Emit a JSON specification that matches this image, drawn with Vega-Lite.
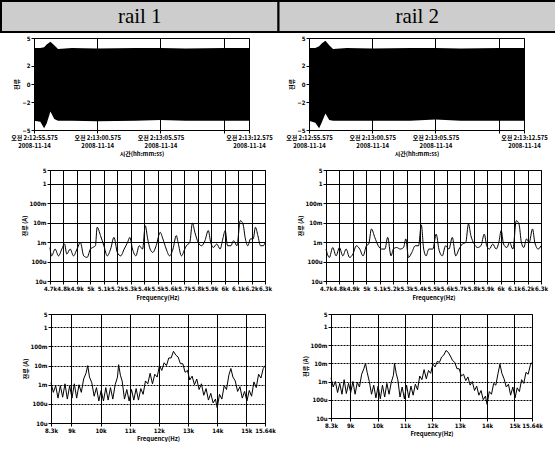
{
  "$schema": "https://vega.github.io/schema/vega-lite/v6.json",
  "padding": 0,
  "background": "white",
  "config": {
    "font": "Noto Sans CJK KR",
    "view": {"stroke": "black", "strokeWidth": 1},
    "axis": {
      "labelFont": "DejaVu Sans Condensed", "labelFontSize": 6, "labelFontWeight": "bold", "labelColor": "black",
      "titleFont": "Noto Sans CJK KR", "titleFontSize": 6, "titleFontWeight": "bold", "titleColor": "black",
      "domainColor": "black", "tickColor": "black", "gridColor": "black", "gridOpacity": 1,
      "tickSize": 3, "labelPadding": 1, "titlePadding": 2, "labelLineHeight": 8, "labelFlush": false, "labelOverlap": false
    }
  },
  "datasets": {
    "header": [{"rail": "rail 1"}, {"rail": "rail 2"}],
    "time": [
      {"rail": "rail 1", "t": "2008-11-14T02:12:55.575", "hi": 3.9, "lo": -4.0},
      {"rail": "rail 1", "t": "2008-11-14T02:12:56.075", "hi": 3.9, "lo": -4.1},
      {"rail": "rail 1", "t": "2008-11-14T02:12:56.375", "hi": 4.0, "lo": -4.8},
      {"rail": "rail 1", "t": "2008-11-14T02:12:56.575", "hi": 4.3, "lo": -4.3},
      {"rail": "rail 1", "t": "2008-11-14T02:12:56.875", "hi": 4.6, "lo": -3.0},
      {"rail": "rail 1", "t": "2008-11-14T02:12:57.175", "hi": 4.2, "lo": -3.8},
      {"rail": "rail 1", "t": "2008-11-14T02:12:57.475", "hi": 3.8, "lo": -4.0},
      {"rail": "rail 1", "t": "2008-11-14T02:12:58.575", "hi": 3.9, "lo": -4.0},
      {"rail": "rail 1", "t": "2008-11-14T02:13:00.575", "hi": 3.85, "lo": -4.05},
      {"rail": "rail 1", "t": "2008-11-14T02:13:03.575", "hi": 3.9, "lo": -4.0},
      {"rail": "rail 1", "t": "2008-11-14T02:13:05.575", "hi": 3.9, "lo": -3.9},
      {"rail": "rail 1", "t": "2008-11-14T02:13:07.575", "hi": 3.85, "lo": -4.0},
      {"rail": "rail 1", "t": "2008-11-14T02:13:10.575", "hi": 3.9, "lo": -4.0},
      {"rail": "rail 1", "t": "2008-11-14T02:13:12.575", "hi": 3.9, "lo": -4.0},
      {"rail": "rail 2", "t": "2008-11-14T02:12:55.575", "hi": 3.9, "lo": -4.0},
      {"rail": "rail 2", "t": "2008-11-14T02:12:56.075", "hi": 3.9, "lo": -4.2},
      {"rail": "rail 2", "t": "2008-11-14T02:12:56.375", "hi": 4.1, "lo": -4.8},
      {"rail": "rail 2", "t": "2008-11-14T02:12:56.575", "hi": 4.4, "lo": -4.2},
      {"rail": "rail 2", "t": "2008-11-14T02:12:56.875", "hi": 4.7, "lo": -3.2},
      {"rail": "rail 2", "t": "2008-11-14T02:12:57.175", "hi": 4.2, "lo": -3.9},
      {"rail": "rail 2", "t": "2008-11-14T02:12:57.475", "hi": 3.8, "lo": -4.0},
      {"rail": "rail 2", "t": "2008-11-14T02:12:58.575", "hi": 3.9, "lo": -4.0},
      {"rail": "rail 2", "t": "2008-11-14T02:13:00.575", "hi": 3.85, "lo": -4.0},
      {"rail": "rail 2", "t": "2008-11-14T02:13:03.575", "hi": 3.9, "lo": -4.0},
      {"rail": "rail 2", "t": "2008-11-14T02:13:05.575", "hi": 3.9, "lo": -3.85},
      {"rail": "rail 2", "t": "2008-11-14T02:13:07.575", "hi": 3.85, "lo": -4.0},
      {"rail": "rail 2", "t": "2008-11-14T02:13:10.575", "hi": 3.9, "lo": -4.0},
      {"rail": "rail 2", "t": "2008-11-14T02:13:12.575", "hi": 3.9, "lo": -4.0}
    ],
    "spec2": [
      {"rail":"rail 1","f":4700,"v":5.25e-4},{"rail":"rail 1","f":4712,"v":1.95e-4},{"rail":"rail 1","f":4738,"v":4.37e-4},{"rail":"rail 1","f":4763,"v":1.95e-4},
      {"rail":"rail 1","f":4788,"v":4.37e-4},{"rail":"rail 1","f":4808,"v":7.94e-4},{"rail":"rail 1","f":4825,"v":2.4e-4},{"rail":"rail 1","f":4850,"v":4.37e-4},
      {"rail":"rail 1","f":4875,"v":1.95e-4},{"rail":"rail 1","f":4901,"v":4.37e-4},{"rail":"rail 1","f":4926,"v":9.5e-4},{"rail":"rail 1","f":4951,"v":1.95e-4},
      {"rail":"rail 1","f":4976,"v":1.62e-4},{"rail":"rail 1","f":5001,"v":4.37e-4},{"rail":"rail 1","f":5018,"v":5.25e-4},{"rail":"rail 1","f":5038,"v":6.46e-4},
      {"rail":"rail 1","f":5051,"v":5.75e-3},{"rail":"rail 1","f":5076,"v":2.14e-3},{"rail":"rail 1","f":5101,"v":6.46e-4},{"rail":"rail 1","f":5126,"v":1.95e-4},
      {"rail":"rail 1","f":5151,"v":4.37e-4},{"rail":"rail 1","f":5176,"v":1.74e-3},{"rail":"rail 1","f":5201,"v":2.95e-4},{"rail":"rail 1","f":5226,"v":1.95e-4},
      {"rail":"rail 1","f":5252,"v":4.37e-4},{"rail":"rail 1","f":5277,"v":9.5e-4},{"rail":"rail 1","f":5294,"v":1.74e-3},{"rail":"rail 1","f":5314,"v":4.37e-4},
      {"rail":"rail 1","f":5339,"v":1.95e-4},{"rail":"rail 1","f":5364,"v":6.46e-4},{"rail":"rail 1","f":5389,"v":4.37e-4},{"rail":"rail 1","f":5409,"v":6.9e-3},
      {"rail":"rail 1","f":5427,"v":1.45e-3},{"rail":"rail 1","f":5445,"v":4.37e-4},{"rail":"rail 1","f":5465,"v":2.95e-4},{"rail":"rail 1","f":5490,"v":6.46e-4},
      {"rail":"rail 1","f":5520,"v":3.16e-3},{"rail":"rail 1","f":5540,"v":1.45e-3},{"rail":"rail 1","f":5565,"v":4.37e-4},{"rail":"rail 1","f":5590,"v":1.95e-4},
      {"rail":"rail 1","f":5615,"v":4.37e-4},{"rail":"rail 1","f":5640,"v":2.14e-3},{"rail":"rail 1","f":5653,"v":9.5e-4},{"rail":"rail 1","f":5678,"v":1.95e-4},
      {"rail":"rail 1","f":5703,"v":4.37e-4},{"rail":"rail 1","f":5715,"v":6.46e-4},{"rail":"rail 1","f":5740,"v":9.5e-4},{"rail":"rail 1","f":5760,"v":9.5e-3},
      {"rail":"rail 1","f":5778,"v":3.16e-3},{"rail":"rail 1","f":5803,"v":9.5e-4},{"rail":"rail 1","f":5828,"v":6.46e-4},{"rail":"rail 1","f":5853,"v":1.17e-3},
      {"rail":"rail 1","f":5878,"v":3.9e-3},{"rail":"rail 1","f":5896,"v":9.5e-4},{"rail":"rail 1","f":5916,"v":5.25e-4},{"rail":"rail 1","f":5941,"v":7.94e-4},
      {"rail":"rail 1","f":5966,"v":4.37e-4},{"rail":"rail 1","f":5986,"v":1.45e-3},{"rail":"rail 1","f":6004,"v":3.9e-3},{"rail":"rail 1","f":6021,"v":6.46e-4},
      {"rail":"rail 1","f":6046,"v":6.46e-4},{"rail":"rail 1","f":6066,"v":1.17e-3},{"rail":"rail 1","f":6091,"v":6.46e-4},{"rail":"rail 1","f":6116,"v":1.26e-2},
      {"rail":"rail 1","f":6136,"v":8.5e-3},{"rail":"rail 1","f":6154,"v":1.45e-3},{"rail":"rail 1","f":6172,"v":6.46e-4},{"rail":"rail 1","f":6192,"v":1.45e-3},
      {"rail":"rail 1","f":6212,"v":1.45e-3},{"rail":"rail 1","f":6229,"v":5.75e-3},{"rail":"rail 1","f":6247,"v":2.14e-3},{"rail":"rail 1","f":6267,"v":6.46e-4},
      {"rail":"rail 1","f":6287,"v":6.46e-4},{"rail":"rail 1","f":6300,"v":9.5e-4},
      {"rail":"rail 2","f":4700,"v":4.37e-4},{"rail":"rail 2","f":4725,"v":1.62e-4},{"rail":"rail 2","f":4750,"v":5.25e-4},{"rail":"rail 2","f":4775,"v":1.95e-4},
      {"rail":"rail 2","f":4800,"v":5.25e-4},{"rail":"rail 2","f":4825,"v":1.95e-4},{"rail":"rail 2","f":4850,"v":4.37e-4},{"rail":"rail 2","f":4875,"v":1.62e-4},
      {"rail":"rail 2","f":4900,"v":2.4e-4},{"rail":"rail 2","f":4926,"v":6.46e-4},{"rail":"rail 2","f":4951,"v":4.37e-4},{"rail":"rail 2","f":4976,"v":1.95e-4},
      {"rail":"rail 2","f":5001,"v":6.46e-4},{"rail":"rail 2","f":5018,"v":7.94e-4},{"rail":"rail 2","f":5038,"v":4.7e-3},{"rail":"rail 2","f":5063,"v":1.74e-3},
      {"rail":"rail 2","f":5089,"v":6.46e-4},{"rail":"rail 2","f":5114,"v":4.37e-4},{"rail":"rail 2","f":5139,"v":4.37e-4},{"rail":"rail 2","f":5159,"v":1.74e-3},
      {"rail":"rail 2","f":5184,"v":1.95e-4},{"rail":"rail 2","f":5201,"v":4.37e-4},{"rail":"rail 2","f":5226,"v":5.25e-4},{"rail":"rail 2","f":5252,"v":4.37e-4},
      {"rail":"rail 2","f":5277,"v":5.25e-4},{"rail":"rail 2","f":5294,"v":1.45e-3},{"rail":"rail 2","f":5314,"v":1.62e-4},{"rail":"rail 2","f":5339,"v":2.95e-4},
      {"rail":"rail 2","f":5364,"v":6.46e-4},{"rail":"rail 2","f":5389,"v":6.46e-4},{"rail":"rail 2","f":5409,"v":7.6e-3},{"rail":"rail 2","f":5427,"v":4.37e-4},
      {"rail":"rail 2","f":5445,"v":1.95e-4},{"rail":"rail 2","f":5465,"v":4.37e-4},{"rail":"rail 2","f":5495,"v":4.37e-4},{"rail":"rail 2","f":5520,"v":2.57e-3},
      {"rail":"rail 2","f":5540,"v":4.37e-4},{"rail":"rail 2","f":5565,"v":1.95e-4},{"rail":"rail 2","f":5590,"v":6.46e-4},{"rail":"rail 2","f":5615,"v":4.37e-4},
      {"rail":"rail 2","f":5640,"v":1.74e-3},{"rail":"rail 2","f":5665,"v":1.95e-4},{"rail":"rail 2","f":5690,"v":4.37e-4},{"rail":"rail 2","f":5715,"v":7.94e-4},
      {"rail":"rail 2","f":5740,"v":9.5e-4},{"rail":"rail 2","f":5760,"v":8.5e-3},{"rail":"rail 2","f":5778,"v":2.14e-3},{"rail":"rail 2","f":5803,"v":7.94e-4},
      {"rail":"rail 2","f":5828,"v":5.25e-4},{"rail":"rail 2","f":5853,"v":6.46e-4},{"rail":"rail 2","f":5878,"v":2.57e-3},{"rail":"rail 2","f":5896,"v":6.46e-4},
      {"rail":"rail 2","f":5916,"v":4.37e-4},{"rail":"rail 2","f":5941,"v":7.94e-4},{"rail":"rail 2","f":5966,"v":4.37e-4},{"rail":"rail 2","f":5986,"v":9.5e-4},
      {"rail":"rail 2","f":6004,"v":3.9e-3},{"rail":"rail 2","f":6021,"v":7.94e-4},{"rail":"rail 2","f":6046,"v":5.25e-4},{"rail":"rail 2","f":6066,"v":9.5e-4},
      {"rail":"rail 2","f":6091,"v":4.37e-4},{"rail":"rail 2","f":6116,"v":1.26e-2},{"rail":"rail 2","f":6136,"v":8.5e-3},{"rail":"rail 2","f":6154,"v":9.5e-4},
      {"rail":"rail 2","f":6172,"v":5.25e-4},{"rail":"rail 2","f":6192,"v":1.45e-3},{"rail":"rail 2","f":6212,"v":9.5e-4},{"rail":"rail 2","f":6237,"v":4.7e-3},
      {"rail":"rail 2","f":6254,"v":9.5e-4},{"rail":"rail 2","f":6279,"v":4.37e-4},{"rail":"rail 2","f":6300,"v":6.46e-4}
    ],
    "spec3": [
      {"rail":"rail 1","f":8300,"v":1.26e-3},{"rail":"rail 1","f":8380,"v":4.0e-4},{"rail":"rail 1","f":8460,"v":8.9e-4},{"rail":"rail 1","f":8540,"v":2.0e-4},
      {"rail":"rail 1","f":8620,"v":8.9e-4},{"rail":"rail 1","f":8700,"v":2.24e-4},{"rail":"rail 1","f":8780,"v":1.12e-3},{"rail":"rail 1","f":8860,"v":1.78e-4},
      {"rail":"rail 1","f":8940,"v":8.9e-4},{"rail":"rail 1","f":9020,"v":2.0e-4},{"rail":"rail 1","f":9100,"v":1.12e-3},{"rail":"rail 1","f":9180,"v":2.0e-4},
      {"rail":"rail 1","f":9260,"v":1.0e-3},{"rail":"rail 1","f":9340,"v":4.0e-4},{"rail":"rail 1","f":9420,"v":2.0e-3},{"rail":"rail 1","f":9500,"v":3.98e-3},
      {"rail":"rail 1","f":9560,"v":1.0e-2},{"rail":"rail 1","f":9620,"v":2.51e-3},{"rail":"rail 1","f":9700,"v":1.26e-3},{"rail":"rail 1","f":9780,"v":2.51e-4},
      {"rail":"rail 1","f":9860,"v":7.08e-4},{"rail":"rail 1","f":9940,"v":1.41e-4},{"rail":"rail 1","f":10020,"v":5.01e-4},{"rail":"rail 1","f":10100,"v":1.41e-4},
      {"rail":"rail 1","f":10180,"v":7.08e-4},{"rail":"rail 1","f":10260,"v":1.58e-4},{"rail":"rail 1","f":10340,"v":7.08e-4},{"rail":"rail 1","f":10420,"v":1.78e-4},
      {"rail":"rail 1","f":10500,"v":1.0e-3},{"rail":"rail 1","f":10580,"v":2.51e-3},{"rail":"rail 1","f":10620,"v":1.12e-2},{"rail":"rail 1","f":10680,"v":3.16e-3},
      {"rail":"rail 1","f":10740,"v":1.58e-3},{"rail":"rail 1","f":10820,"v":1.78e-4},{"rail":"rail 1","f":10900,"v":5.62e-4},{"rail":"rail 1","f":10980,"v":1.41e-4},
      {"rail":"rail 1","f":11060,"v":5.62e-4},{"rail":"rail 1","f":11140,"v":1.58e-4},{"rail":"rail 1","f":11220,"v":6.31e-4},{"rail":"rail 1","f":11300,"v":1.58e-4},
      {"rail":"rail 1","f":11380,"v":6.31e-4},{"rail":"rail 1","f":11460,"v":3.16e-4},{"rail":"rail 1","f":11540,"v":1.58e-3},{"rail":"rail 1","f":11620,"v":1.12e-3},
      {"rail":"rail 1","f":11700,"v":3.98e-3},{"rail":"rail 1","f":11780,"v":1.12e-3},{"rail":"rail 1","f":11860,"v":3.55e-3},{"rail":"rail 1","f":11940,"v":2.51e-3},
      {"rail":"rail 1","f":12020,"v":1.0e-2},{"rail":"rail 1","f":12100,"v":5.62e-3},{"rail":"rail 1","f":12180,"v":1.41e-2},{"rail":"rail 1","f":12260,"v":1.0e-2},
      {"rail":"rail 1","f":12340,"v":2.51e-2},{"rail":"rail 1","f":12420,"v":2.51e-2},{"rail":"rail 1","f":12500,"v":5.62e-2},{"rail":"rail 1","f":12580,"v":3.55e-2},
      {"rail":"rail 1","f":12660,"v":2.82e-2},{"rail":"rail 1","f":12740,"v":1.26e-2},{"rail":"rail 1","f":12820,"v":1.26e-2},{"rail":"rail 1","f":12900,"v":4.47e-3},
      {"rail":"rail 1","f":12980,"v":5.62e-3},{"rail":"rail 1","f":13060,"v":1.78e-3},{"rail":"rail 1","f":13140,"v":2.82e-3},{"rail":"rail 1","f":13220,"v":1.0e-3},
      {"rail":"rail 1","f":13300,"v":2.0e-3},{"rail":"rail 1","f":13380,"v":5.62e-4},{"rail":"rail 1","f":13460,"v":1.12e-3},{"rail":"rail 1","f":13540,"v":2.82e-4},
      {"rail":"rail 1","f":13620,"v":6.31e-4},{"rail":"rail 1","f":13700,"v":1.58e-4},{"rail":"rail 1","f":13780,"v":3.55e-4},{"rail":"rail 1","f":13860,"v":1.12e-4},
      {"rail":"rail 1","f":13940,"v":1.78e-4},{"rail":"rail 1","f":14000,"v":6.31e-5},{"rail":"rail 1","f":14080,"v":3.16e-4},{"rail":"rail 1","f":14160,"v":1.78e-4},
      {"rail":"rail 1","f":14240,"v":8.9e-4},{"rail":"rail 1","f":14320,"v":5.62e-4},{"rail":"rail 1","f":14400,"v":3.16e-3},{"rail":"rail 1","f":14470,"v":7.08e-3},
      {"rail":"rail 1","f":14540,"v":2.51e-3},{"rail":"rail 1","f":14620,"v":1.58e-3},{"rail":"rail 1","f":14700,"v":4.47e-4},{"rail":"rail 1","f":14780,"v":7.94e-4},
      {"rail":"rail 1","f":14860,"v":2.0e-4},{"rail":"rail 1","f":14940,"v":4.47e-4},{"rail":"rail 1","f":15020,"v":1.41e-4},{"rail":"rail 1","f":15100,"v":5.01e-4},
      {"rail":"rail 1","f":15180,"v":2.51e-4},{"rail":"rail 1","f":15260,"v":1.41e-3},{"rail":"rail 1","f":15340,"v":7.08e-4},{"rail":"rail 1","f":15420,"v":3.55e-3},
      {"rail":"rail 1","f":15500,"v":2.24e-3},{"rail":"rail 1","f":15580,"v":7.08e-3},{"rail":"rail 1","f":15640,"v":1.0e-2},
      {"rail":"rail 2","f":8300,"v":1.58e-3},{"rail":"rail 2","f":8380,"v":5.0e-4},{"rail":"rail 2","f":8460,"v":1.0e-3},{"rail":"rail 2","f":8540,"v":2.5e-4},
      {"rail":"rail 2","f":8620,"v":7.9e-4},{"rail":"rail 2","f":8700,"v":2.0e-4},{"rail":"rail 2","f":8780,"v":1.26e-3},{"rail":"rail 2","f":8860,"v":2.2e-4},
      {"rail":"rail 2","f":8940,"v":7.9e-4},{"rail":"rail 2","f":9020,"v":2.5e-4},{"rail":"rail 2","f":9100,"v":1.0e-3},{"rail":"rail 2","f":9180,"v":2.0e-4},
      {"rail":"rail 2","f":9260,"v":8.9e-4},{"rail":"rail 2","f":9340,"v":5.0e-4},{"rail":"rail 2","f":9420,"v":2.5e-3},{"rail":"rail 2","f":9500,"v":5.0e-3},
      {"rail":"rail 2","f":9560,"v":1.0e-2},{"rail":"rail 2","f":9620,"v":3.2e-3},{"rail":"rail 2","f":9700,"v":1.0e-3},{"rail":"rail 2","f":9780,"v":2.0e-4},
      {"rail":"rail 2","f":9860,"v":6.3e-4},{"rail":"rail 2","f":9940,"v":1.26e-4},{"rail":"rail 2","f":10020,"v":5.6e-4},{"rail":"rail 2","f":10100,"v":1.12e-4},
      {"rail":"rail 2","f":10180,"v":6.3e-4},{"rail":"rail 2","f":10260,"v":1.41e-4},{"rail":"rail 2","f":10340,"v":7.9e-4},{"rail":"rail 2","f":10420,"v":2.0e-4},
      {"rail":"rail 2","f":10500,"v":8.9e-4},{"rail":"rail 2","f":10580,"v":2.2e-3},{"rail":"rail 2","f":10620,"v":1.0e-2},{"rail":"rail 2","f":10680,"v":2.8e-3},
      {"rail":"rail 2","f":10740,"v":1.26e-3},{"rail":"rail 2","f":10820,"v":1.41e-4},{"rail":"rail 2","f":10900,"v":5.0e-4},{"rail":"rail 2","f":10980,"v":1.12e-4},
      {"rail":"rail 2","f":11060,"v":6.3e-4},{"rail":"rail 2","f":11140,"v":1.26e-4},{"rail":"rail 2","f":11220,"v":5.6e-4},{"rail":"rail 2","f":11300,"v":1.78e-4},
      {"rail":"rail 2","f":11380,"v":7.1e-4},{"rail":"rail 2","f":11460,"v":3.5e-4},{"rail":"rail 2","f":11540,"v":2.0e-3},{"rail":"rail 2","f":11620,"v":1.26e-3},
      {"rail":"rail 2","f":11700,"v":4.5e-3},{"rail":"rail 2","f":11780,"v":1.41e-3},{"rail":"rail 2","f":11860,"v":4.0e-3},{"rail":"rail 2","f":11940,"v":2.8e-3},
      {"rail":"rail 2","f":12020,"v":8.9e-3},{"rail":"rail 2","f":12100,"v":6.3e-3},{"rail":"rail 2","f":12180,"v":1.26e-2},{"rail":"rail 2","f":12260,"v":1.12e-2},
      {"rail":"rail 2","f":12340,"v":2.2e-2},{"rail":"rail 2","f":12420,"v":2.8e-2},{"rail":"rail 2","f":12500,"v":5.0e-2},{"rail":"rail 2","f":12580,"v":4.0e-2},
      {"rail":"rail 2","f":12660,"v":2.5e-2},{"rail":"rail 2","f":12740,"v":1.41e-2},{"rail":"rail 2","f":12820,"v":1.12e-2},{"rail":"rail 2","f":12900,"v":5.0e-3},
      {"rail":"rail 2","f":12980,"v":5.0e-3},{"rail":"rail 2","f":13060,"v":2.0e-3},{"rail":"rail 2","f":13140,"v":2.5e-3},{"rail":"rail 2","f":13220,"v":1.12e-3},
      {"rail":"rail 2","f":13300,"v":1.78e-3},{"rail":"rail 2","f":13380,"v":6.3e-4},{"rail":"rail 2","f":13460,"v":1.0e-3},{"rail":"rail 2","f":13540,"v":3.2e-4},
      {"rail":"rail 2","f":13620,"v":5.6e-4},{"rail":"rail 2","f":13700,"v":1.78e-4},{"rail":"rail 2","f":13780,"v":3.2e-4},{"rail":"rail 2","f":13860,"v":1.0e-4},
      {"rail":"rail 2","f":13940,"v":1.58e-4},{"rail":"rail 2","f":14000,"v":5.6e-5},{"rail":"rail 2","f":14080,"v":2.8e-4},{"rail":"rail 2","f":14160,"v":2.0e-4},
      {"rail":"rail 2","f":14240,"v":7.9e-4},{"rail":"rail 2","f":14320,"v":6.3e-4},{"rail":"rail 2","f":14400,"v":2.8e-3},{"rail":"rail 2","f":14470,"v":8.9e-3},
      {"rail":"rail 2","f":14540,"v":2.8e-3},{"rail":"rail 2","f":14620,"v":1.41e-3},{"rail":"rail 2","f":14700,"v":5.0e-4},{"rail":"rail 2","f":14780,"v":7.1e-4},
      {"rail":"rail 2","f":14860,"v":1.78e-4},{"rail":"rail 2","f":14940,"v":5.0e-4},{"rail":"rail 2","f":15020,"v":1.26e-4},{"rail":"rail 2","f":15100,"v":4.5e-4},
      {"rail":"rail 2","f":15180,"v":2.8e-4},{"rail":"rail 2","f":15260,"v":1.26e-3},{"rail":"rail 2","f":15340,"v":7.9e-4},{"rail":"rail 2","f":15420,"v":3.2e-3},
      {"rail":"rail 2","f":15500,"v":2.5e-3},{"rail":"rail 2","f":15580,"v":7.9e-3},{"rail":"rail 2","f":15640,"v":1.12e-2}
    ]
  },
  "spacing": 9,
  "vconcat": [
    {
      "spacing": 1,
      "vconcat": [
        {
          "width": 555, "height": 31,
          "data": {"name": "header"},
          "view": {"stroke": null},
          "layer": [
            {"mark": {"type": "rect", "fill": "#cdcdcd", "stroke": "black", "strokeWidth": 2},
             "encoding": {"x": {"field": "rail", "type": "nominal", "scale": {"paddingInner": 0, "paddingOuter": 0}, "axis": null}}},
            {"mark": {"type": "text", "font": "Liberation Serif", "fontSize": 21, "baseline": "middle", "color": "black"},
             "encoding": {"x": {"field": "rail", "type": "nominal", "axis": null}, "text": {"field": "rail"}}}
          ]
        },
        {
          "spacing": 0,
          "hconcat": [
            {"width": 9, "height": 5, "data": {"name": "header"}, "view": {"stroke": null}, "mark": {"type": "rule", "opacity": 0}, "encoding": {}},
            {
              "spacing": 12,
              "hconcat": [
                {
                  "width": 215, "height": 92,
                  "data": {"name": "time"},
                  "transform": [{"filter": "datum.rail == 'rail 1'"}],
                  "mark": {"type": "area", "color": "black"},
                  "encoding": {
                    "x": {"field": "t", "type": "temporal",
                          "scale": {"domain": [{"year": 2008, "month": 11, "date": 14, "hours": 2, "minutes": 12, "seconds": 55, "milliseconds": 575}, {"year": 2008, "month": 11, "date": 14, "hours": 2, "minutes": 13, "seconds": 12, "milliseconds": 575}]},
                          "axis": {"title": "시간(hh:mm:ss)", "grid": true, "gridWidth": 1, "labelFont": "Noto Sans CJK KR",
                                   "values": [{"year": 2008, "month": 11, "date": 14, "hours": 2, "minutes": 12, "seconds": 55, "milliseconds": 575}, {"year": 2008, "month": 11, "date": 14, "hours": 2, "minutes": 13, "seconds": 0, "milliseconds": 575}, {"year": 2008, "month": 11, "date": 14, "hours": 2, "minutes": 13, "seconds": 5, "milliseconds": 575}, {"year": 2008, "month": 11, "date": 14, "hours": 2, "minutes": 13, "seconds": 10, "milliseconds": 575}, {"year": 2008, "month": 11, "date": 14, "hours": 2, "minutes": 13, "seconds": 12, "milliseconds": 575}],
                                   "labelExpr": "seconds(datum.value) == 10 ? '' : ['오전 ' + timeFormat(datum.value, '%-I:%M:%S.%L'), timeFormat(datum.value, '%Y-%m-%d')]"}},
                    "y": {"field": "hi", "type": "quantitative", "scale": {"domain": [-5, 5]}, "axis": {"title": "전류", "values": [-5, -2, 0, 2, 5], "grid": false}},
                    "y2": {"field": "lo"}
                  }
                },
                {
                  "width": 215, "height": 92,
                  "data": {"name": "time"},
                  "transform": [{"filter": "datum.rail == 'rail 2'"}],
                  "mark": {"type": "area", "color": "black"},
                  "encoding": {
                    "x": {"field": "t", "type": "temporal",
                          "scale": {"domain": [{"year": 2008, "month": 11, "date": 14, "hours": 2, "minutes": 12, "seconds": 55, "milliseconds": 575}, {"year": 2008, "month": 11, "date": 14, "hours": 2, "minutes": 13, "seconds": 12, "milliseconds": 575}]},
                          "axis": {"title": "시간(hh:mm:ss)", "grid": true, "gridWidth": 1, "labelFont": "Noto Sans CJK KR",
                                   "values": [{"year": 2008, "month": 11, "date": 14, "hours": 2, "minutes": 12, "seconds": 55, "milliseconds": 575}, {"year": 2008, "month": 11, "date": 14, "hours": 2, "minutes": 13, "seconds": 0, "milliseconds": 575}, {"year": 2008, "month": 11, "date": 14, "hours": 2, "minutes": 13, "seconds": 5, "milliseconds": 575}, {"year": 2008, "month": 11, "date": 14, "hours": 2, "minutes": 13, "seconds": 10, "milliseconds": 575}, {"year": 2008, "month": 11, "date": 14, "hours": 2, "minutes": 13, "seconds": 12, "milliseconds": 575}],
                                   "labelExpr": "seconds(datum.value) == 10 ? '' : ['오전 ' + timeFormat(datum.value, '%-I:%M:%S.%L'), timeFormat(datum.value, '%Y-%m-%d')]"}},
                    "y": {"field": "hi", "type": "quantitative", "scale": {"domain": [-5, 5]}, "axis": {"title": "전류", "values": [-5, -2, 0, 2, 5], "grid": false}},
                    "y2": {"field": "lo"}
                  }
                }
              ]
            }
          ]
        }
      ]
    },
    {
      "spacing": 0,
      "hconcat": [
        {"width": 19, "height": 5, "data": {"name": "header"}, "view": {"stroke": null}, "mark": {"type": "rule", "opacity": 0}, "encoding": {}},
        {
          "spacing": 23,
          "hconcat": [
            {
              "width": 215, "height": 111,
              "data": {"name": "spec2"},
              "transform": [{"filter": "datum.rail == 'rail 1'"}],
              "mark": {"type": "line", "color": "black", "strokeWidth": 1, "interpolate": "monotone"},
              "encoding": {
                "x": {"field": "f", "type": "quantitative", "scale": {"domain": [4700, 6300], "nice": false},
                      "axis": {"title": "Frequency(Hz)", "titlePadding": 3, "values": [4700, 4800, 4900, 5000, 5100, 5200, 5300, 5400, 5500, 5600, 5700, 5800, 5900, 6000, 6100, 6200, 6300], "format": "~s", "grid": true}},
                "y": {"field": "v", "type": "quantitative", "scale": {"type": "log", "domain": [1e-5, 5], "nice": false},
                      "axis": {"title": "전류 (A)", "values": [5, 1, 0.1, 0.01, 0.001, 0.0001, 0.00001], "labelExpr": "replace(format(datum.value, '~s'), 'µ', 'u')", "grid": true}}
              }
            },
            {
              "width": 215, "height": 111,
              "data": {"name": "spec2"},
              "transform": [{"filter": "datum.rail == 'rail 2'"}],
              "mark": {"type": "line", "color": "black", "strokeWidth": 1, "interpolate": "monotone"},
              "encoding": {
                "x": {"field": "f", "type": "quantitative", "scale": {"domain": [4700, 6300], "nice": false},
                      "axis": {"title": "Frequency(Hz)", "titlePadding": 3, "values": [4700, 4800, 4900, 5000, 5100, 5200, 5300, 5400, 5500, 5600, 5700, 5800, 5900, 6000, 6100, 6200, 6300], "format": "~s", "grid": true}},
                "y": {"field": "v", "type": "quantitative", "scale": {"type": "log", "domain": [1e-5, 5], "nice": false},
                      "axis": {"title": "전류 (A)", "values": [5, 1, 0.1, 0.01, 0.001, 0.0001, 0.00001], "labelExpr": "replace(format(datum.value, '~s'), 'µ', 'u')", "grid": true}}
              }
            }
          ]
        }
      ]
    },
    {
      "spacing": 0,
      "hconcat": [
        {"width": 20, "height": 5, "data": {"name": "header"}, "view": {"stroke": null}, "mark": {"type": "rule", "opacity": 0}, "encoding": {}},
        {
          "spacing": 25,
          "hconcat": [
            {
              "width": 214, "height": 109,
              "data": {"name": "spec3"},
              "transform": [{"filter": "datum.rail == 'rail 1'"}],
              "mark": {"type": "line", "color": "black", "strokeWidth": 1},
              "encoding": {
                "x": {"field": "f", "type": "quantitative", "scale": {"domain": [8300, 15640], "nice": false},
                      "axis": {"title": "Frequency(Hz)", "values": [8300, 9000, 10000, 11000, 12000, 13000, 14000, 15000, 15640], "labelExpr": "format(datum.value, '~s')", "grid": true}},
                "y": {"field": "v", "type": "quantitative", "scale": {"type": "log", "domain": [1e-5, 5], "nice": false},
                      "axis": {"title": "전류 (A)", "values": [5, 1, 0.1, 0.01, 0.001, 0.0001, 0.00001], "labelExpr": "replace(format(datum.value, '~s'), 'µ', 'u')", "grid": true, "gridDash": [2, 1]}}
              }
            },
            {
              "width": 201, "height": 104,
              "data": {"name": "spec3"},
              "transform": [{"filter": "datum.rail == 'rail 2'"}],
              "mark": {"type": "line", "color": "black", "strokeWidth": 1},
              "encoding": {
                "x": {"field": "f", "type": "quantitative", "scale": {"domain": [8300, 15640], "nice": false},
                      "axis": {"title": "Frequency(Hz)", "values": [8300, 9000, 10000, 11000, 12000, 13000, 14000, 15000, 15640], "labelExpr": "format(datum.value, '~s')", "grid": true}},
                "y": {"field": "v", "type": "quantitative", "scale": {"type": "log", "domain": [1e-5, 5], "nice": false},
                      "axis": {"title": "전류 (A)", "values": [5, 1, 0.1, 0.01, 0.001, 0.0001, 0.00001], "labelExpr": "replace(format(datum.value, '~s'), 'µ', 'u')", "grid": true, "gridDash": [2, 1]}}
              }
            }
          ]
        }
      ]
    }
  ]
}
